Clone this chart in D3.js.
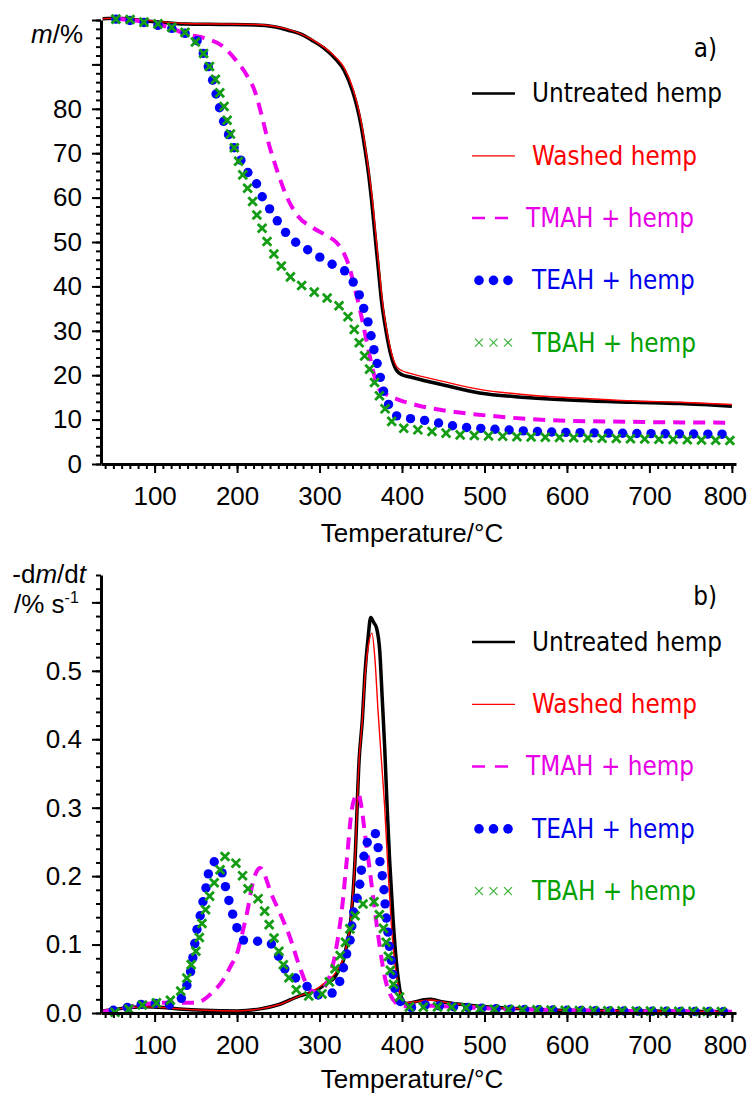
<!DOCTYPE html>
<html>
<head>
<meta charset="utf-8">
<script src="https://cdn.jsdelivr.net/npm/d3@7"></script>
<style>
  body { margin: 0; background: #fff; }
  svg { display: block; }
  .tick text { font-family: "Liberation Sans", Arial, sans-serif; font-size: 26px; fill: #000; }
  .title { font-family: "Liberation Sans", Arial, sans-serif; font-size: 26px; fill: #000; }
  .leg { font-family: "DejaVu Sans Condensed", "DejaVu Sans", sans-serif; font-stretch: condensed; font-size: 25.8px; }
</style>
</head>
<body>
<svg id="chart" width="748" height="1093"></svg>
<script>
// ---- values: [temperature °C, value] ----
var tgUntreated = [[37,100.3],[55,100.4],[100,99.6],[137,99.1],[180,99.0],[222,98.9],[245,98.5],[262,97.7],[280,96.6],[291,95.4],[305,93.7],[319,91.3],[330,88.6],[340,84.0],[345,80.8],[350,76.6],[355,71],[360,64.5],[363,59.6],[367,52],[371,44.5],[375,37],[381,29.6],[387,24.2],[393,21.2],[400,20.1],[410,19.6],[450,17.8],[494,16.0],[550,15.0],[615,14.3],[680,13.9],[737,13.6],[800,13.0]];
var tgWashed = [[37,100.3],[55,100.4],[137,99.2],[222,99.0],[262,97.9],[291,95.6],[319,91.7],[330,89.2],[340,84.8],[345,81.6],[350,77.5],[355,72],[360,65.5],[364,59.6],[368,52],[372,44.5],[376,37],[382,29.6],[388,24.5],[394,21.8],[400,21],[410,20.4],[450,18.6],[494,16.8],[550,15.6],[615,14.8],[680,14.2],[737,13.9],[800,13.4]];
var tgTmah = [[52,100.3],[75,99.9],[102,99.1],[120,98.2],[137,96.9],[161,95.9],[181,94.3],[197,91.3],[211,87.8],[222,83.7],[230,78.4],[238,72.4],[248,66.4],[260,60.3],[274,55.8],[292,53.2],[310,51.3],[320,50],[327,48.3],[333,46],[337,43.8],[341,40.8],[349,34.8],[355,29.5],[361,24.2],[367,19.5],[373,16.7],[379,15.9],[397,14.4],[417,13.3],[446,12.2],[478,11.4],[510,10.8],[575,9.9],[676,9.5],[800,9.3]];
var tgTeah = [[53,100.2],[74,99.8],[91,99.3],[109,98.6],[125,97.9],[139,96.8],[153,95],[160,92],[166,89],[171,86],[175,83],[179,80],[184,77],[190,74],[197,71],[205,68.3],[213,65.7],[224,63],[231,60],[240,57.3],[249,54.7],[260,51.9],[272,49.8],[286,48.2],[302,46.4],[316,44.9],[331,43.4],[341,40.9],[349,37.7],[354,34.8],[359,31.8],[366,25.7],[370,22.5],[374,19.3],[378,16.1],[384,13.3],[394,10.8],[411,10.2],[428,9.8],[445,9.2],[462,8.6],[480,8.2],[498,8.0],[567,7.3],[676,6.9],[800,6.7]];
var tgTbah = [[53,100.2],[73,100.1],[90,99.4],[108,99],[123,98.2],[140,96.8],[153,94.2],[161,91.9],[168,88.9],[175,86],[180,83],[185,80],[189,76.5],[193,73.6],[198,70.4],[203,67.5],[208,64.5],[214,61.5],[220,58.5],[225,55.5],[231,52.8],[237,49.8],[245,47.2],[254,44.5],[266,41.9],[280,40],[296,38.5],[311,37.2],[325,35.4],[336,32.7],[343,29.9],[349,26.9],[355,24.2],[361,21.2],[367,18.2],[373,15.2],[380,12.2],[388,9.5],[403,8],[419,7.7],[437,7.3],[456,6.9],[474,6.5],[492,6.4],[550,6.1],[616,5.9],[700,5.6],[800,5.3]];

var dtgUntreated = [[37,0.003],[50,0.005],[70,0.008],[90,0.009],[110,0.008],[130,0.006],[160,0.004],[200,0.003],[228,0.006],[250,0.012],[276,0.025],[290,0.03],[300,0.036],[310,0.045],[317,0.05],[325,0.067],[329,0.077],[333,0.1],[337,0.126],[343,0.223],[348,0.37],[352,0.43],[355,0.495],[359,0.55],[362,0.578],[366,0.57],[369,0.563],[373,0.529],[376,0.46],[379,0.388],[382,0.3],[385,0.223],[389,0.14],[393,0.077],[396,0.045],[399,0.024],[405,0.014],[415,0.016],[425,0.019],[435,0.02],[450,0.016],[475,0.012],[500,0.009],[550,0.006],[600,0.004],[700,0.003],[800,0.002]];
var dtgWashed = [[37,0.003],[50,0.005],[70,0.008],[90,0.009],[110,0.008],[130,0.006],[160,0.004],[200,0.003],[228,0.006],[250,0.012],[276,0.025],[290,0.031],[300,0.038],[310,0.048],[317,0.055],[325,0.07],[329,0.08],[333,0.1],[337,0.128],[343,0.225],[348,0.37],[352,0.43],[355,0.49],[359,0.535],[363.5,0.555],[367,0.52],[371,0.44],[375,0.37],[379,0.3],[383,0.21],[387,0.13],[391,0.075],[395,0.042],[399,0.024],[405,0.015],[415,0.016],[425,0.018],[435,0.019],[450,0.016],[475,0.012],[500,0.009],[550,0.006],[600,0.004],[700,0.003],[800,0.002]];
var dtgTmah = [[37,0.002],[50,0.004],[70,0.009],[90,0.013],[110,0.015],[130,0.015],[150,0.015],[159,0.019],[170,0.03],[183,0.048],[192,0.068],[200,0.087],[206,0.115],[212,0.146],[219,0.19],[223,0.205],[228,0.212],[234,0.2],[240,0.179],[252,0.146],[264,0.111],[276,0.067],[286,0.038],[293,0.031],[300,0.03],[308,0.042],[314,0.06],[318,0.08],[321,0.1],[327,0.15],[333,0.223],[339,0.296],[343,0.315],[347,0.32],[351,0.3],[355,0.262],[361,0.208],[367,0.15],[373,0.097],[379,0.053],[385,0.029],[393,0.014],[400,0.01],[420,0.011],[450,0.01],[500,0.007],[600,0.004],[800,0.002]];
var dtgTeah = [[50,0.004],[70,0.009],[86,0.013],[103,0.014],[120,0.012],[134,0.024],[140,0.044],[144,0.063],[146.5,0.082],[149,0.104],[152,0.126],[156,0.146],[159.5,0.168],[163,0.187],[166,0.208],[172,0.221],[177,0.217],[182,0.204],[186,0.184],[195,0.143],[200,0.124],[209,0.106],[224,0.105],[240,0.102],[249.5,0.085],[257,0.066],[271,0.051],[286,0.038],[300,0.026],[315,0.029],[325,0.048],[333,0.087],[337,0.106],[341,0.145],[346,0.17],[349,0.19],[351,0.211],[354,0.23],[358,0.25],[363,0.262],[367,0.263],[371,0.242],[373,0.223],[376,0.201],[378,0.182],[379.5,0.16],[381,0.138],[383,0.118],[384.5,0.099],[387,0.077],[389,0.058],[391,0.038],[397,0.019],[407,0.007],[424,0.012],[450,0.01],[500,0.007],[600,0.004],[800,0.002]];
var dtgTbah = [[52,0.001],[70,0.006],[86,0.012],[103,0.015],[120,0.019],[133,0.035],[140,0.054],[145,0.073],[150,0.09],[154,0.109],[157.5,0.131],[162,0.152],[167,0.172],[171.5,0.188],[175,0.198],[180,0.211],[186,0.229],[191,0.229],[196,0.223],[205.5,0.204],[211.6,0.185],[222,0.172],[231.5,0.155],[237,0.136],[243,0.115],[249,0.097],[254,0.077],[260,0.06],[267,0.041],[276,0.03],[282,0.026],[298,0.024],[308.6,0.038],[316.6,0.058],[322.6,0.077],[328.7,0.094],[335,0.116],[339,0.131],[349,0.153],[361,0.167],[370,0.153],[375,0.133],[379,0.116],[382,0.094],[384.5,0.075],[387,0.053],[393,0.034],[401,0.016],[416,0.007],[430,0.009],[450,0.009],[500,0.006],[600,0.004],[800,0.002]];

var legendLabels = ["Untreated hemp", "Washed hemp", "TMAH + hemp", "TEAH + hemp", "TBAH + hemp"];
var xMajorTicks = [100, 200, 300, 400, 500, 600, 700, 800];
var tgMajorTicks = [0, 10, 20, 30, 40, 50, 60, 70, 80, 90, 100];
var tgLabelTicks = [0, 10, 20, 30, 40, 50, 60, 70, 80];
var dtgMajorTicks = [0, 0.1, 0.2, 0.3, 0.4, 0.5, 0.6];
var dtgLabelTicks = [0, 0.1, 0.2, 0.3, 0.4, 0.5];

// styles for the five series, in legend order
var styles = [
  { color: "#000000", width: 3.5, kind: "line" },
  { color: "#ff0000", width: 1.4, kind: "line" },
  { color: "#ee00ee", width: 4, kind: "dash" },
  { color: "#0000ff", kind: "dot" },
  { color: "#149c14", kind: "cross" }
];
var textColors = ["#000000", "#ff0000", "#e600e6", "#0000ee", "#00a000"];

var svg = d3.select("#chart");
var x = d3.scaleLinear().domain([35, 805]).range([101, 736]);

function markersAlong(path, step, offset) {
  var node = path.node(), L = node.getTotalLength(), pts = [];
  for (var s = offset; s <= L + 0.1; s += step) pts.push(node.getPointAtLength(s));
  return pts;
}

function drawPanel(p) {
  var y = d3.scaleLinear().domain(p.yDomain).range([p.bottom, p.top]);
  var line = d3.line()
    .x(function (d) { return x(d[0]); })
    .y(function (d) { return y(d[1]); })
    .curve(d3.curveMonotoneX);
  var g = svg.append("g");

  p.series.forEach(function (data, i) {
    var st = styles[i];
    var path = g.append("path").datum(data)
      .attr("d", line)
      .attr("fill", "none");
    if (st.kind == "line") {
      path.attr("stroke", st.color).attr("stroke-width", st.width).attr("stroke-linejoin", "round");
    } else if (st.kind == "dash") {
      path.attr("stroke", st.color).attr("stroke-width", st.width).attr("stroke-dasharray", "12,8");
    } else if (st.kind == "dot") {
      g.selectAll(null).data(markersAlong(path, 14.2, 0)).enter().append("circle")
        .attr("cx", function (d) { return d.x; })
        .attr("cy", function (d) { return d.y; })
        .attr("r", 4.7)
        .attr("fill", st.color);
    } else {
      g.selectAll(null).data(markersAlong(path, 14.2, 0)).enter().append("path")
        .attr("transform", function (d) { return "translate(" + d.x + "," + d.y + ")"; })
        .attr("d", "M-4.3,-4.3L4.3,4.3M-4.3,4.3L4.3,-4.3")
        .attr("stroke", st.color)
        .attr("stroke-width", 2.8);
    }
  });

  // x axis: minor + major
  var minorX = d3.range(40, 801, 10);
  g.append("g").attr("transform", "translate(0," + p.bottom + ")")
    .call(d3.axisBottom(x).tickValues(minorX).tickSize(5).tickSizeOuter(0).tickFormat(""))
    .call(function (a) { a.select(".domain").remove(); a.selectAll("line").attr("stroke-width", 2); });
  g.append("g").attr("transform", "translate(0," + p.bottom + ")")
    .call(d3.axisBottom(x).tickValues(xMajorTicks).tickSize(9).tickSizeOuter(0).tickPadding(14).tickFormat(d3.format("d")))
    .call(function (a) {
      a.select(".domain").attr("stroke-width", 3);
      a.selectAll("line").attr("stroke-width", 2);
      // keep the last label inside the page
      a.selectAll("text").filter(function (d) { return d == 800; }).attr("dx", -7);
    });

  // y axis: minor + major
  g.append("g").attr("transform", "translate(101,0)")
    .call(d3.axisLeft(y).tickValues(p.yMinor).tickSize(5).tickSizeOuter(0).tickFormat(""))
    .call(function (a) { a.select(".domain").remove(); a.selectAll("line").attr("stroke-width", 2); });
  g.append("g").attr("transform", "translate(101,0)")
    .call(d3.axisLeft(y).tickValues(p.yMajor).tickSize(9).tickSizeOuter(0).tickPadding(10)
      .tickFormat(function (d) { return p.yLabels.indexOf(d) >= 0 ? p.fmt(d) : ""; }))
    .call(function (a) {
      a.select(".domain").attr("stroke-width", 3);
      a.selectAll("line").attr("stroke-width", 2);
    });

  g.append("text").attr("class", "title")
    .attr("x", 412).attr("y", p.titleY)
    .attr("text-anchor", "middle")
    .text("Temperature/°C");

  g.append("text").attr("class", "leg")
    .attr("x", 717).attr("y", p.tagY)
    .attr("text-anchor", "end")
    .attr("font-size", "27px")
    .text(p.tag);

  // legend
  legendLabels.forEach(function (lab, i) {
    var st = styles[i];
    var sy = p.legY + i * 62.3;
    if (st.kind == "line") {
      g.append("line").attr("x1", 472).attr("x2", 515).attr("y1", sy).attr("y2", sy)
        .attr("stroke", st.color).attr("stroke-width", i == 0 ? 2.5 : 1.2);
    } else if (st.kind == "dash") {
      g.append("line").attr("x1", 472).attr("x2", 509).attr("y1", sy).attr("y2", sy)
        .attr("stroke", st.color).attr("stroke-width", 2.5).attr("stroke-dasharray", "13,10");
    } else if (st.kind == "dot") {
      [479, 493.5, 508].forEach(function (cx) {
        g.append("circle").attr("cx", cx).attr("cy", sy).attr("r", 4.8).attr("fill", st.color);
      });
    } else {
      [479, 493.5, 508].forEach(function (cx) {
        g.append("path").attr("transform", "translate(" + cx + "," + sy + ")")
          .attr("d", "M-4,-4L4,4M-4,4L4,-4").attr("stroke", "#3cb43c").attr("stroke-width", 1.2);
      });
    }
    g.append("text").attr("class", "leg")
      .attr("x", i == 2 ? 526 : 532).attr("y", sy + 8.8)
      .attr("fill", textColors[i])
      .text(lab);
  });
  return g;
}

var gTop = drawPanel({
  top: 20, bottom: 464, yDomain: [0, 100],
  series: [tgUntreated, tgWashed, tgTmah, tgTeah, tgTbah],
  yMinor: d3.range(0, 101, 2), yMajor: tgMajorTicks, yLabels: tgLabelTicks,
  fmt: d3.format("d"), titleY: 542, tag: "a)", tagY: 57, legY: 93.5
});
var gBot = drawPanel({
  top: 575, bottom: 1013, yDomain: [0, 0.64],
  series: [dtgUntreated, dtgWashed, dtgTmah, dtgTeah, dtgTbah],
  yMinor: d3.range(0, 33).map(function (i) { return i * 0.02; }), yMajor: dtgMajorTicks, yLabels: dtgLabelTicks,
  fmt: d3.format(".1f"), titleY: 1088, tag: "b)", tagY: 605, legY: 642
});

// y axis labels
var t1 = gTop.append("text").attr("class", "title").attr("x", 83).attr("y", 43).attr("text-anchor", "end");
t1.append("tspan").attr("font-style", "italic").text("m");
t1.append("tspan").text("/%");

var t2 = gBot.append("text").attr("class", "title").attr("x", 86).attr("y", 583).attr("text-anchor", "end");
t2.append("tspan").text("-d");
t2.append("tspan").attr("font-style", "italic").text("m");
t2.append("tspan").text("/d");
t2.append("tspan").attr("font-style", "italic").text("t");

var t3 = gBot.append("text").attr("class", "title").attr("x", 14).attr("y", 613);
t3.append("tspan").text("/% s");
t3.append("tspan").attr("font-size", "16px").attr("dy", "-10").text("-1");
</script>
</body>
</html>
